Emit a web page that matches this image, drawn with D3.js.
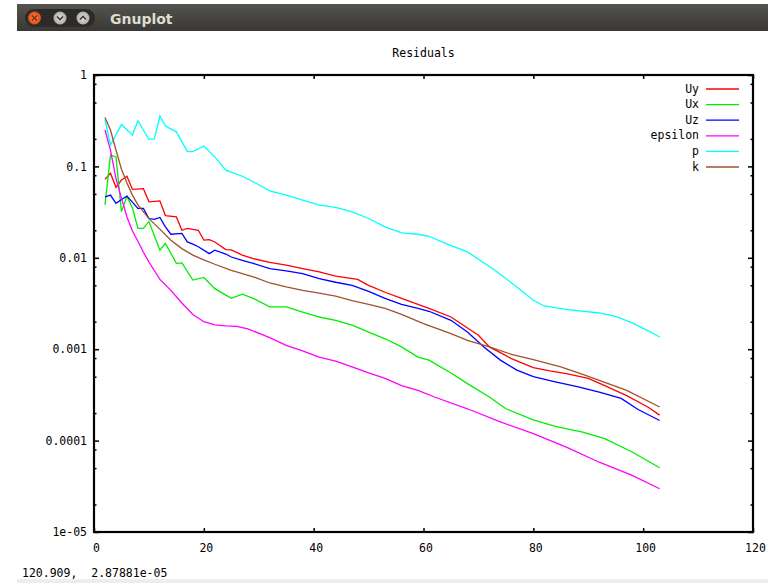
<!DOCTYPE html>
<html>
<head>
<meta charset="utf-8">
<script src="https://cdn.jsdelivr.net/npm/d3@7/dist/d3.min.js"></script>
<style>
  body { margin: 0; background: #fff; }
  svg text { font-family: "DejaVu Sans Mono", monospace; font-size: 11.5px; fill: #000; }
</style>
</head>
<body>
<div id="chart"></div>
<script>
// residuals per iteration, [iteration, residual]
const uyData = [[2,0.072],[3,0.084],[4,0.059],[5,0.071],[6,0.078],[7,0.056],[9,0.057],[10,0.041],[12,0.042],[13,0.029],[15,0.028],[16,0.020],[17,0.021],[19,0.020],[20,0.0156],[21,0.0158],[22,0.0149],[24,0.0123],[25,0.0122],[27,0.0107],[29,0.0098],[32,0.0089],[35,0.0083],[38,0.0076],[41,0.0070],[44,0.0063],[48,0.0058],[50,0.0050],[53,0.0042],[56,0.0036],[59,0.0031],[61,0.0028],[65,0.00225],[70,0.00142],[72,0.00106],[76,0.00079],[80,0.00063],[83,0.00058],[86,0.00054],[90,0.00048],[93,0.00040],[97,0.00031],[101,0.00023],[103,0.00019]];
const uxData = [[2,0.038],[3,0.133],[4,0.127],[5,0.032],[6,0.047],[7,0.035],[8,0.021],[9,0.021],[10,0.025],[12,0.0121],[13,0.0144],[15,0.0087],[16,0.0088],[18,0.0057],[20,0.0061],[22,0.0046],[24,0.0039],[25,0.0036],[27,0.0040],[29,0.0036],[32,0.0029],[35,0.0029],[38,0.00255],[41,0.00225],[44,0.00207],[47,0.00183],[50,0.00154],[53,0.0013],[56,0.00106],[59,0.00082],[61,0.00076],[65,0.00055],[68,0.00042],[72,0.0003],[75,0.000223],[80,0.000169],[84,0.000143],[89,0.000124],[93,0.000105],[98,0.000075],[103,0.0000505]];
const uzData = [[2,0.0465],[3,0.0485],[4,0.0394],[5,0.0435],[6,0.0473],[8,0.0347],[9,0.0347],[10,0.0269],[11,0.0263],[12,0.0276],[13,0.0218],[14,0.0181],[16,0.0185],[17,0.0149],[18,0.0141],[19,0.0132],[21,0.0111],[22,0.0121],[24,0.0110],[25,0.0102],[27,0.0094],[29,0.0087],[32,0.0076],[35,0.0072],[38,0.0067],[41,0.0059],[44,0.0054],[47,0.0050],[50,0.0043],[53,0.0036],[56,0.0031],[59,0.0028],[61,0.0026],[65,0.00207],[68,0.00154],[71,0.00106],[74,0.00076],[77,0.00059],[80,0.0005],[84,0.00044],[88,0.00039],[92,0.00034],[96,0.00029],[99,0.00022],[103,0.000166]];
const epsilonData = [[2,0.25],[3,0.151],[4,0.074],[5,0.045],[6,0.028],[7,0.0196],[8,0.0152],[9,0.0115],[10,0.009],[12,0.0058],[14,0.0044],[16,0.0032],[18,0.0024],[20,0.002],[22,0.00185],[24,0.0018],[26,0.00178],[28,0.00167],[32,0.00134],[35,0.0011],[38,0.00096],[41,0.00082],[44,0.00074],[47,0.00064],[50,0.00055],[53,0.00048],[56,0.0004],[59,0.000355],[62,0.0003],[68,0.000223],[74,0.00016],[80,0.000119],[86,0.000085],[92,0.000058],[98,0.0000416],[103,0.0000297]];
const pData = [[2,0.327],[3,0.171],[5,0.288],[7,0.22],[8,0.316],[10,0.198],[11,0.20],[12,0.356],[13,0.276],[15,0.239],[17,0.145],[18,0.145],[20,0.167],[22,0.127],[24,0.091],[27,0.078],[29,0.068],[32,0.054],[35,0.0485],[38,0.0428],[41,0.0377],[44,0.0356],[47,0.0318],[50,0.0269],[53,0.0218],[56,0.0187],[59,0.0181],[61,0.0172],[64,0.0144],[68,0.0116],[73,0.0073],[77,0.0048],[80,0.00343],[82,0.00297],[86,0.00272],[92,0.00249],[95,0.00229],[98,0.00194],[101,0.00158],[103,0.00136]];
const kData = [[2,0.343],[3,0.25],[4,0.151],[5,0.093],[6,0.066],[7,0.0485],[8,0.038],[10,0.0268],[12,0.0206],[14,0.0156],[16,0.0126],[18,0.0107],[20,0.0095],[22,0.0085],[25,0.0073],[29,0.0062],[32,0.0053],[35,0.0048],[38,0.0044],[41,0.0041],[44,0.0038],[47,0.0034],[50,0.0031],[53,0.0028],[56,0.0024],[60,0.0019],[65,0.00148],[68,0.00125],[72,0.00106],[76,0.00088],[80,0.00077],[85,0.00064],[89,0.00053],[92,0.000456],[97,0.000355],[103,0.000233]];

const seriesNames = ['Uy', 'Ux', 'Uz', 'epsilon', 'p', 'k'];
const seriesData = [uyData, uxData, uzData, epsilonData, pData, kData];

const xTicks = [0, 20, 40, 60, 80, 100, 120];
const yTicks = [1, 0.1, 0.01, 0.001, 0.0001, 0.00001];
const yTickLabels = ['1', '0.1', '0.01', '0.001', '0.0001', '1e-05'];
const yMinorMantissas = [2, 5, 8];

const colors = ['#ff0000', '#00ee00', '#0000ff', '#ff00ff', '#00ffff', '#a0522d'];

const plot = { left: 94, right: 753, top: 75, bottom: 532 };

const svg = d3.select('#chart').append('svg')
  .attr('width', 768)
  .attr('height', 583);

// window title bar
const defs = svg.append('defs');
const grad = defs.append('linearGradient').attr('id', 'titlebar')
  .attr('x1', 0).attr('y1', 0).attr('x2', 0).attr('y2', 1);
grad.append('stop').attr('offset', '0%').attr('stop-color', '#54534e');
grad.append('stop').attr('offset', '100%').attr('stop-color', '#393834');
const closeGrad = defs.append('radialGradient').attr('id', 'closebtn');
closeGrad.append('stop').attr('offset', '0%').attr('stop-color', '#f58a5c');
closeGrad.append('stop').attr('offset', '100%').attr('stop-color', '#df4b16');
const greyGrad = defs.append('radialGradient').attr('id', 'greybtn');
greyGrad.append('stop').attr('offset', '0%').attr('stop-color', '#e4e2dc');
greyGrad.append('stop').attr('offset', '100%').attr('stop-color', '#aeaca6');

svg.append('rect').attr('x', 17).attr('y', 4).attr('width', 751).attr('height', 27)
  .attr('fill', 'url(#titlebar)');
svg.append('rect').attr('x', 25).attr('y', 9).attr('width', 70).attr('height', 18).attr('rx', 9)
  .attr('fill', '#2c2b28');
svg.append('circle').attr('cx', 34.5).attr('cy', 18).attr('r', 6.5).attr('fill', 'url(#closebtn)');
svg.append('path').attr('d', 'M32,15.5L37,20.5M37,15.5L32,20.5')
  .attr('stroke', '#8a2e0c').attr('stroke-width', 1.6);
svg.append('circle').attr('cx', 60).attr('cy', 18).attr('r', 6.5).attr('fill', 'url(#greybtn)');
svg.append('path').attr('d', 'M57,16.5L60,19.5L63,16.5')
  .attr('fill', 'none').attr('stroke', '#3c3b37').attr('stroke-width', 1.6);
svg.append('circle').attr('cx', 83).attr('cy', 18).attr('r', 6.5).attr('fill', 'url(#greybtn)');
svg.append('path').attr('d', 'M80,19.5L83,16.5L86,19.5')
  .attr('fill', 'none').attr('stroke', '#3c3b37').attr('stroke-width', 1.6);
svg.append('text').attr('x', 110).attr('y', 24)
  .style('font-family', '"DejaVu Sans", sans-serif').style('font-size', '14px')
  .style('font-weight', 'bold').style('fill', '#dfdbd2')
  .text('Gnuplot');

// status strip at the bottom
svg.append('rect').attr('x', 17).attr('y', 579).attr('width', 751).attr('height', 4)
  .attr('fill', '#efedea');
svg.append('text').attr('x', 22).attr('y', 577).style('white-space', 'pre')
  .text('120.909,  2.87881e-05');

// scales
const x = d3.scaleLinear().domain([0, 120]).range([plot.left, plot.right]);
const y = d3.scaleLog().domain([1e-5, 1]).range([plot.bottom, plot.top]);

const yMinor = [];
yTicks.slice(0, -1).forEach(t => yMinorMantissas.forEach(m => yMinor.push(t / 10 * m)));

function styleAxis(g) {
  g.select('.domain').remove();
  g.selectAll('.tick line').attr('stroke', '#000').attr('stroke-width', 1.5);
  g.selectAll('.tick text').style('font-family', '"DejaVu Sans Mono", monospace').style('font-size', '11.5px');
}

// left axis
svg.append('g').attr('transform', `translate(${plot.left},0)`)
  .call(d3.axisLeft(y).tickValues(yTicks).tickSize(-5).tickPadding(7)
    .tickFormat((d, i) => yTickLabels[i]))
  .call(styleAxis);
svg.append('g').attr('transform', `translate(${plot.left},0)`)
  .call(d3.axisLeft(y).tickValues(yMinor).tickSize(-2.5).tickFormat(''))
  .call(styleAxis);

// right mirror axis
svg.append('g').attr('transform', `translate(${plot.right},0)`)
  .call(d3.axisRight(y).tickValues(yTicks).tickSize(-5).tickFormat(''))
  .call(styleAxis);
svg.append('g').attr('transform', `translate(${plot.right},0)`)
  .call(d3.axisRight(y).tickValues(yMinor).tickSize(-2.5).tickFormat(''))
  .call(styleAxis);

// bottom axis
svg.append('g').attr('transform', `translate(0,${plot.bottom})`)
  .call(d3.axisBottom(x).tickValues(xTicks).tickSize(-4).tickPadding(12).tickFormat(d3.format('d')))
  .call(styleAxis)
  .selectAll('.tick text').attr('dx', 2);

// top mirror axis
svg.append('g').attr('transform', `translate(0,${plot.top})`)
  .call(d3.axisTop(x).tickValues(xTicks).tickSize(-4).tickFormat(''))
  .call(styleAxis);

// border
svg.append('rect')
  .attr('x', plot.left).attr('y', plot.top)
  .attr('width', plot.right - plot.left).attr('height', plot.bottom - plot.top)
  .attr('fill', 'none').attr('stroke', '#000').attr('stroke-width', 2.2);

// title
svg.append('text').attr('x', (plot.left + plot.right) / 2).attr('y', 57)
  .attr('text-anchor', 'middle').text('Residuals');

// curves
const line = d3.line()
  .x(d => x(d[0]))
  .y(d => y(d[1]));

seriesData.forEach((data, i) => {
  svg.append('path')
    .datum(data)
    .attr('fill', 'none')
    .attr('stroke', colors[i])
    .attr('stroke-width', 1.3)
    .attr('d', line);
});

// legend
const legend = svg.append('g');
seriesNames.forEach((name, i) => {
  const ly = 89 + i * 15.6;
  legend.append('text').attr('x', 699).attr('y', ly).attr('dy', '0.32em')
    .attr('text-anchor', 'end').text(name);
  legend.append('line').attr('x1', 706).attr('x2', 739).attr('y1', ly).attr('y2', ly)
    .attr('stroke', colors[i]).attr('stroke-width', 1.3);
});
</script>
</body>
</html>
